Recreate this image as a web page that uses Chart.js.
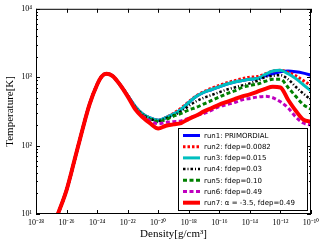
<!DOCTYPE html>
<html lang="en">
<head>
  <meta charset="UTF-8">
  <title>Temperature vs Density</title>
  <script src="https://cdn.jsdelivr.net/npm/chart.js"></script>
  <style>
    body { margin: 0; padding: 0; background: #fff; }
    #tempChart { display: block; }
  </style>
</head>
<body>
<canvas id="tempChart" width="325" height="246"></canvas>
<script>
  // density values as log10 exponents [g/cm^3]
  var logDensity = [-26.6, -26, -25.5, -25, -24.5, -24, -23.7, -23.4, -23, -22.5, -22,
    -21.5, -21, -20.5, -20, -19.5, -19, -18.5, -18, -17.5, -17, -16.5, -16, -15.5, -15,
    -14.5, -14, -13.5, -13, -12.5, -12, -11.5, -11, -10.5, -10];

  // temperatures as log10(T [K])
  var run1 = [0.98, 1.35, 1.77, 2.20, 2.60, 2.89, 3.01, 3.05, 3.02, 2.89, 2.73,
    2.57, 2.46, 2.40, 2.37, 2.41, 2.46, 2.53, 2.63, 2.72, 2.78, 2.82, 2.86, 2.90, 2.93,
    2.95, 2.97, 2.98, 3.02, 3.05, 3.08, 3.09, 3.08, 3.06, 3.03];
  var run2 = [0.98, 1.35, 1.77, 2.20, 2.60, 2.89, 3.01, 3.05, 3.02, 2.89, 2.73,
    2.57, 2.46, 2.40, 2.37, 2.41, 2.47, 2.55, 2.64, 2.73, 2.79, 2.84, 2.88, 2.92, 2.95,
    2.98, 3.00, 3.01, 3.05, 3.09, 3.10, 3.07, 3.02, 2.95, 2.88];
  var run3 = [0.98, 1.35, 1.77, 2.20, 2.60, 2.89, 3.01, 3.05, 3.02, 2.89, 2.73,
    2.57, 2.46, 2.40, 2.37, 2.41, 2.46, 2.53, 2.63, 2.72, 2.78, 2.82, 2.86, 2.90, 2.93,
    2.95, 2.97, 2.98, 3.04, 3.09, 3.10, 3.05, 2.98, 2.89, 2.80];
  var run4 = [0.98, 1.35, 1.77, 2.20, 2.60, 2.89, 3.01, 3.05, 3.02, 2.89, 2.73,
    2.56, 2.45, 2.39, 2.36, 2.40, 2.44, 2.50, 2.58, 2.65, 2.70, 2.74, 2.78, 2.82, 2.85,
    2.88, 2.91, 2.95, 3.00, 3.02, 3.03, 2.97, 2.86, 2.76, 2.67];
  var run5 = [0.98, 1.35, 1.77, 2.20, 2.60, 2.89, 3.01, 3.05, 3.02, 2.89, 2.73,
    2.55, 2.44, 2.38, 2.35, 2.38, 2.43, 2.47, 2.52, 2.56, 2.61, 2.66, 2.71, 2.76, 2.80,
    2.85, 2.88, 2.90, 2.94, 2.97, 2.97, 2.85, 2.72, 2.60, 2.53];
  var run6 = [0.98, 1.35, 1.77, 2.20, 2.60, 2.89, 3.01, 3.05, 3.02, 2.89, 2.73,
    2.54, 2.43, 2.36, 2.32, 2.34, 2.35, 2.36, 2.40, 2.44, 2.47, 2.52, 2.57, 2.60, 2.63,
    2.67, 2.69, 2.71, 2.72, 2.70, 2.64, 2.55, 2.42, 2.33, 2.30];
  var run7 = [0.98, 1.35, 1.77, 2.20, 2.60, 2.89, 3.01, 3.05, 3.02, 2.89, 2.72,
    2.53, 2.41, 2.32, 2.25, 2.29, 2.31, 2.33, 2.39, 2.44, 2.50, 2.55, 2.60, 2.64, 2.68,
    2.72, 2.75, 2.79, 2.83, 2.86, 2.85, 2.67, 2.51, 2.38, 2.35];

  var runLabels = ['run1: PRIMORDIAL', 'run2: fdep=0.0082', 'run3: fdep=0.015',
    'run4: fdep=0.03', 'run5: fdep=0.10', 'run6: fdep=0.49', 'run7: \u03b1 = -3.5, fdep=0.49'];

  // tick label exponents
  var xTickExp = [-28, -26, -24, -22, -20, -18, -16, -14, -12, -10];
  var yTickExp = [1, 2, 3, 4];

  var sup = {'-': '\u207b', '0': '\u2070', '1': '\u00b9', '2': '\u00b2', '3': '\u00b3',
    '4': '\u2074', '5': '\u2075', '6': '\u2076', '7': '\u2077', '8': '\u2078', '9': '\u2079'};

  function powLabel(v) {
    var e = String(Math.round(Math.log10(v)));
    return '10' + e.split('').map(function (c) { return sup[c]; }).join('');
  }

  function toPoints(logT) {
    return logT.map(function (t, i) {
      return { x: Math.pow(10, logDensity[i]), y: Math.pow(10, t) };
    });
  }

  var styles = [
    { color: '#0000ff', width: 3, dash: [] },
    { color: '#ff0000', width: 3, dash: [2.5, 2] },
    { color: '#00bfbf', width: 3, dash: [] },
    { color: '#000000', width: 2.5, dash: [2.5, 2, 1, 2] },
    { color: '#008000', width: 3, dash: [4, 2.5] },
    { color: '#bf00bf', width: 3, dash: [4, 2.5] },
    { color: '#ff0000', width: 4, dash: [] }
  ];

  var series = [run1, run2, run3, run4, run5, run6, run7];

  // ticks pointing inward on all four sides plus the frame
  var frameTicks = {
    id: 'frameTicks',
    afterDraw: function (chart) {
      var ctx = chart.ctx, a = chart.chartArea, x = chart.scales.x, y = chart.scales.y;
      ctx.save();
      ctx.strokeStyle = '#000';
      ctx.lineWidth = 1;
      ctx.setLineDash([]);
      ctx.beginPath();
      xTickExp.forEach(function (e) {
        var px = Math.round(x.getPixelForValue(Math.pow(10, e))) + 0.5;
        ctx.moveTo(px, a.bottom); ctx.lineTo(px, a.bottom - 4);
        ctx.moveTo(px, a.top); ctx.lineTo(px, a.top + 4);
      });
      for (var e = 1; e <= 4; e++) {
        for (var m = 1; m < 10; m++) {
          if (e === 4 && m > 1) break;
          var len = m === 1 ? 4 : 2;
          var py = Math.round(y.getPixelForValue(m * Math.pow(10, e))) + 0.5;
          ctx.moveTo(a.left, py); ctx.lineTo(a.left + len, py);
          ctx.moveTo(a.right, py); ctx.lineTo(a.right - len, py);
        }
      }
      ctx.stroke();
      ctx.strokeRect(a.left + 0.5, a.top + 0.5, a.width - 1, a.height - 1);
      ctx.restore();
    }
  };

  // legend box in the lower right of the plot
  var boxLegend = {
    id: 'boxLegend',
    afterDatasetsDraw: function (chart) {
      var ctx = chart.ctx, a = chart.chartArea;
      var w = 129, h = 82;
      var x0 = a.right - 4 - w, y0 = a.bottom - 4 - h;
      ctx.save();
      ctx.fillStyle = '#fff';
      ctx.fillRect(x0, y0, w, h);
      ctx.strokeStyle = '#000';
      ctx.lineWidth = 1;
      ctx.strokeRect(x0 + 0.5, y0 + 0.5, w, h);
      ctx.font = '7px "DejaVu Sans"';
      ctx.textBaseline = 'middle';
      chart.data.datasets.forEach(function (ds, i) {
        var yy = y0 + 7.5 + i * 11.2;
        ctx.strokeStyle = ds.borderColor;
        ctx.lineWidth = ds.borderWidth;
        ctx.setLineDash(ds.borderDash);
        ctx.beginPath();
        ctx.moveTo(x0 + 5, yy);
        ctx.lineTo(x0 + 22, yy);
        ctx.stroke();
        ctx.fillStyle = '#000';
        ctx.fillText(ds.label, x0 + 26, yy + 0.5);
      });
      ctx.restore();
    }
  };

  new Chart(document.getElementById('tempChart'), {
    type: 'line',
    data: {
      datasets: series.map(function (s, i) {
        return {
          label: runLabels[i],
          data: toPoints(s),
          borderColor: styles[i].color,
          borderWidth: styles[i].width,
          borderDash: styles[i].dash,
          pointRadius: 0,
          fill: false,
          cubicInterpolationMode: 'monotone',
          order: series.length - i
        };
      })
    },
    options: {
      responsive: false,
      animation: false,
      layout: { padding: { top: 8, right: 14, bottom: 0, left: 0 } },
      plugins: { legend: { display: false }, tooltip: { enabled: false } },
      scales: {
        x: {
          type: 'logarithmic',
          min: 1e-28,
          max: 1e-10,
          grid: { display: false, drawTicks: false },
          border: { display: false },
          afterBuildTicks: function (s) {
            s.ticks = xTickExp.map(function (e) { return { value: Math.pow(10, e) }; });
          },
          afterFit: function (s) { s.height = 32; },
          ticks: {
            autoSkip: false,
            maxRotation: 0,
            padding: 4,
            color: '#000',
            font: { family: 'Liberation Serif', size: 8 },
            callback: powLabel
          },
          title: {
            display: true,
            text: 'Density[g/cm\u00b3]',
            color: '#000',
            font: { family: 'Liberation Serif', size: 11 },
            padding: { top: 0, bottom: 5 }
          }
        },
        y: {
          type: 'logarithmic',
          min: 10,
          max: 10000,
          grid: { display: false, drawTicks: false },
          border: { display: false },
          afterBuildTicks: function (s) {
            s.ticks = yTickExp.map(function (e) { return { value: Math.pow(10, e) }; });
          },
          afterFit: function (s) { s.width = 36; },
          ticks: {
            padding: 4,
            color: '#000',
            font: { family: 'Liberation Serif', size: 8 },
            callback: powLabel
          },
          title: {
            display: true,
            text: 'Temperature[K]',
            color: '#000',
            font: { family: 'Liberation Serif', size: 11 },
            padding: { top: 4, bottom: 0 }
          }
        }
      }
    },
    plugins: [frameTicks, boxLegend]
  });
</script>
</body>
</html>
